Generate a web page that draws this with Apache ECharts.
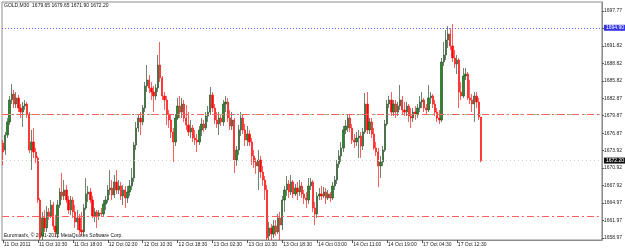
<!DOCTYPE html>
<html>
<head>
<meta charset="utf-8">
<script src="https://cdn.jsdelivr.net/npm/echarts@6/dist/echarts.min.js"></script>
<style>
html,body{margin:0;padding:0;background:#fff;}
#chart{width:625px;height:250px;}
</style>
</head>
<body>
<div id="chart"></div>
<script>
// Each bar: [open, close, low, high]  (GOLD, M30)
const oct11 = [
[1675.21,1673.67,1671.44,1675.72],[1674.01,1676.57,1673.15,1677.09],[1676.57,1678.80,1676.06,1679.48],[1678.80,1682.56,1678.28,1683.24],
[1682.56,1683.58,1681.87,1685.29],[1683.58,1681.87,1681.19,1684.27],[1681.87,1682.90,1681.19,1683.92],[1682.90,1681.19,1680.50,1683.41],
[1681.19,1680.50,1679.48,1681.87],[1680.50,1681.53,1677.94,1682.21],[1681.53,1681.87,1680.85,1682.56],[1681.87,1680.16,1679.48,1682.21],
[1680.16,1674.01,1673.50,1680.50],[1674.01,1675.38,1670.59,1677.43],[1675.38,1673.67,1672.64,1677.77],[1673.67,1672.64,1671.79,1674.35],
[1672.64,1665.46,1664.95,1672.98],[1665.46,1658.97,1658.62,1665.80],[1659.31,1662.39,1658.62,1663.41],[1662.39,1660.68,1659.99,1663.75],
[1660.68,1663.41,1659.99,1664.44],[1663.41,1662.73,1662.04,1664.10],[1662.73,1664.61,1662.39,1665.46],[1664.61,1661.02,1660.33,1665.12],
[1661.02,1659.99,1659.31,1662.90],[1659.65,1664.61,1658.97,1665.46],[1664.61,1666.83,1664.10,1667.51],[1666.83,1666.15,1665.46,1670.08],
[1666.15,1667.17,1665.46,1668.88],[1667.17,1665.46,1664.95,1668.03],[1665.46,1663.75,1663.07,1666.15],[1663.75,1665.46,1662.90,1666.15],
[1665.46,1663.41,1662.39,1665.98],[1663.41,1661.70,1660.68,1664.61],[1661.70,1662.39,1660.33,1663.75],[1662.39,1660.33,1659.65,1663.07],
[1660.33,1659.99,1659.31,1663.41],[1659.99,1664.10,1659.48,1664.78],[1664.10,1666.49,1663.75,1669.22],[1666.49,1666.83,1665.12,1667.86],
[1666.83,1665.46,1664.95,1667.51],[1665.46,1662.73,1662.39,1666.15],[1662.73,1663.41,1661.70,1664.10],[1663.41,1662.73,1660.68,1663.75]
];
const oct12 = [
[1662.73,1663.24,1662.04,1663.75],[1663.24,1663.07,1662.56,1664.10],[1663.07,1664.78,1662.73,1665.46],[1664.78,1665.46,1663.75,1666.15],
[1665.46,1667.17,1664.95,1668.03],[1667.17,1667.51,1666.32,1670.59],[1667.51,1666.32,1665.46,1668.88],[1666.32,1668.54,1665.80,1669.74],
[1668.54,1667.17,1666.49,1670.59],[1667.17,1667.86,1666.49,1668.88],[1667.86,1666.15,1665.46,1668.54],[1666.15,1667.17,1664.61,1668.03],
[1667.17,1665.80,1664.10,1667.86],[1665.80,1666.83,1664.95,1667.86],[1666.83,1667.86,1666.15,1668.88],[1667.86,1669.22,1667.17,1670.93],
[1669.22,1674.86,1668.54,1675.38],[1674.86,1677.77,1674.01,1678.80],[1677.77,1679.48,1677.09,1679.99],[1679.48,1678.80,1676.57,1680.50],
[1678.80,1681.19,1678.28,1681.70],[1681.19,1684.95,1680.50,1685.63],[1684.95,1685.98,1683.92,1688.54],[1685.98,1684.61,1683.75,1686.83],
[1684.61,1683.92,1682.56,1685.63],[1683.92,1683.24,1680.50,1684.95],[1683.24,1684.61,1682.56,1685.29],[1684.61,1688.54,1683.92,1690.25],
[1688.54,1686.32,1685.63,1692.47],[1686.32,1683.24,1682.56,1686.66],[1683.24,1682.56,1680.85,1683.92],[1682.56,1680.16,1678.28,1683.24],
[1680.16,1679.14,1677.77,1680.85],[1679.14,1677.09,1676.06,1680.16],[1677.09,1675.38,1671.96,1677.77],[1675.38,1679.48,1674.69,1680.16],
[1679.48,1681.53,1679.14,1682.90],[1681.53,1680.50,1679.48,1683.24],[1680.50,1681.87,1679.48,1682.90],[1681.87,1679.48,1678.80,1682.56],
[1679.48,1678.28,1677.43,1681.70],[1678.28,1677.09,1676.40,1680.50],[1677.09,1677.77,1676.06,1679.14],[1677.77,1676.06,1675.38,1678.28],
[1676.06,1675.72,1674.86,1677.43],[1675.72,1675.38,1673.67,1676.74],[1675.38,1677.43,1674.86,1678.11]
];
const oct13 = [
[1677.43,1678.45,1676.40,1679.48],[1678.45,1677.77,1677.09,1679.14],[1677.77,1679.82,1677.43,1680.50],[1679.82,1680.50,1678.80,1681.53],
[1680.50,1683.41,1679.99,1684.78],[1683.41,1681.19,1680.50,1683.92],[1681.19,1679.14,1678.45,1681.87],[1679.14,1678.45,1677.77,1680.50],
[1678.45,1679.48,1676.57,1680.50],[1679.48,1678.80,1678.11,1680.16],[1678.80,1681.87,1678.11,1682.56],[1681.87,1682.21,1680.50,1683.24],
[1682.21,1679.48,1678.80,1682.90],[1679.48,1678.11,1677.43,1680.85],[1678.11,1679.14,1677.43,1680.50],[1679.14,1672.30,1670.08,1679.48],
[1672.30,1674.01,1671.27,1674.69],[1674.01,1677.43,1673.15,1678.28],[1677.43,1679.48,1676.40,1680.50],[1679.48,1677.43,1676.74,1680.16],
[1677.43,1675.72,1674.69,1678.45],[1675.72,1676.74,1674.69,1678.11],[1676.74,1675.38,1674.69,1677.43],[1675.38,1672.98,1671.44,1676.06],
[1672.98,1671.96,1670.93,1674.01],[1671.96,1671.27,1669.91,1672.64],[1671.27,1672.30,1667.17,1674.01],[1672.30,1670.25,1669.22,1672.98],
[1670.25,1668.88,1667.86,1671.27],[1668.88,1667.17,1665.46,1669.56],[1667.17,1658.97,1658.62,1668.03],[1659.31,1660.68,1658.62,1661.70],
[1660.68,1659.65,1658.62,1661.36],[1659.65,1661.02,1658.97,1662.04],[1661.02,1659.99,1659.31,1662.04],[1659.99,1662.39,1659.65,1663.07],
[1662.39,1661.19,1658.62,1663.41],[1661.19,1665.46,1660.33,1666.15],[1665.46,1667.17,1663.41,1667.86],[1667.17,1668.20,1666.15,1669.56],
[1668.20,1666.83,1665.80,1668.88],[1666.83,1668.54,1666.32,1669.74],[1668.54,1666.49,1665.80,1668.88],[1666.49,1667.51,1666.15,1668.20],
[1667.51,1666.83,1665.46,1668.54],[1666.83,1667.86,1666.15,1668.88],[1667.86,1666.49,1665.80,1668.54],[1666.49,1665.80,1664.78,1667.17]
];
const oct14 = [
[1665.80,1665.46,1664.10,1666.83],[1665.46,1667.86,1664.78,1669.22],[1667.86,1668.54,1667.17,1669.22],[1668.54,1664.10,1663.41,1668.88],
[1664.10,1663.07,1661.19,1665.12],[1663.07,1666.15,1662.39,1666.83],[1666.15,1666.49,1665.46,1667.51],[1666.49,1666.15,1665.46,1667.86],
[1666.15,1666.83,1665.80,1667.68],[1666.83,1665.80,1664.78,1667.51],[1665.80,1666.49,1665.46,1667.17],[1666.49,1665.80,1665.12,1666.83],
[1665.80,1667.86,1665.46,1668.54],[1667.86,1668.88,1667.17,1669.56],[1668.88,1671.62,1668.20,1672.30],[1671.62,1672.98,1670.93,1674.01],
[1672.98,1674.35,1671.96,1675.38],[1674.35,1677.43,1673.67,1678.11],[1677.43,1678.11,1676.74,1679.14],[1677.77,1679.48,1677.09,1679.99],
[1679.48,1677.77,1677.09,1679.99],[1677.77,1675.72,1675.04,1678.45],[1675.72,1675.38,1674.35,1676.74],[1675.38,1676.06,1674.69,1677.09],
[1676.06,1676.40,1672.64,1677.43],[1676.40,1674.69,1672.64,1677.09],[1674.69,1677.09,1674.01,1677.77],[1677.09,1681.87,1676.74,1683.75],
[1681.87,1677.43,1676.74,1683.92],[1677.43,1678.80,1676.74,1679.48],[1678.80,1676.74,1676.06,1679.48],[1676.74,1674.35,1674.01,1677.77],
[1674.35,1673.67,1672.98,1675.38],[1673.67,1671.27,1667.68,1674.35],[1671.27,1671.96,1669.22,1672.98],[1671.96,1674.01,1671.27,1674.69],
[1674.01,1678.45,1673.67,1679.14],[1678.45,1681.87,1678.11,1682.56],[1681.87,1682.56,1681.19,1683.24],[1682.56,1680.50,1679.82,1683.92],
[1680.50,1681.87,1679.82,1682.56],[1681.87,1680.50,1679.48,1682.56],[1680.50,1681.53,1679.82,1682.21],[1681.53,1682.56,1680.85,1685.12],
[1682.56,1680.85,1680.16,1683.24],[1680.85,1680.50,1679.82,1682.21],[1680.50,1681.53,1679.82,1682.21]
];
const oct17 = [
[1681.53,1679.82,1678.80,1681.87],[1679.82,1679.48,1677.77,1681.19],[1679.48,1680.50,1678.80,1681.19],[1680.50,1680.16,1679.14,1681.53],
[1680.16,1681.19,1679.48,1681.87],[1681.19,1682.21,1680.50,1683.24],[1682.21,1682.56,1681.19,1683.92],[1682.56,1681.19,1680.50,1682.90],
[1681.19,1680.85,1680.16,1681.87],[1680.85,1682.90,1680.50,1685.12],[1682.90,1683.24,1681.87,1683.92],[1683.24,1681.87,1681.19,1683.58],
[1681.87,1680.50,1679.82,1682.56],[1680.50,1679.48,1678.80,1681.19],[1679.48,1679.14,1678.45,1680.85],[1679.14,1689.05,1678.80,1689.74],
[1689.05,1690.25,1688.37,1692.47],[1690.25,1692.81,1689.39,1694.52],[1692.81,1693.84,1691.44,1695.21],[1693.84,1691.79,1691.10,1694.86],
[1691.79,1689.74,1689.05,1695.55],[1689.74,1688.71,1688.03,1691.10],[1688.71,1689.39,1687.00,1690.25],[1689.39,1683.92,1681.19,1689.74],
[1683.92,1683.24,1682.56,1685.63],[1683.24,1686.66,1682.90,1688.03],[1686.66,1687.00,1685.98,1688.03],[1687.00,1682.90,1682.56,1687.34],
[1682.90,1682.56,1681.87,1685.98],[1682.56,1681.87,1680.50,1683.58],[1681.87,1683.24,1678.80,1683.92],[1683.24,1682.21,1681.19,1683.92],
[1682.21,1679.65,1679.14,1682.90],[1679.65,1672.20,1671.90,1679.65]
];

// time-axis tick labels, one every 16 bars
const timeLabels = ['11 Oct 2011','11 Oct 10:30','11 Oct 18:00','12 Oct 02:30','12 Oct 10:30','12 Oct 18:30',
  '13 Oct 02:30','13 Oct 10:30','13 Oct 18:30','14 Oct 03:00','14 Oct 11:00','14 Oct 19:00','17 Oct 04:30','17 Oct 12:30'];
const labelEvery = 16;
const totalSlots = 275; // bars plus the empty right margin of the terminal

// price-axis tick labels
const priceTicks = ['1697.77','1694.77','1691.82','1688.82','1685.82','1682.87','1679.87','1676.87',
  '1673.92','1670.92','1667.92','1664.97','1661.97','1658.97'];

// horizontal levels
const highLevel = 1694.90;
const entryLevel = 1680.08;
const stopLevel = 1662.75;

const bars = [].concat(oct11, oct12, oct13, oct14, oct17);
const last = bars[bars.length - 1];
const categories = Array.from({length: totalSlots}, (_, i) => String(i));
const showTick = (i) => i % labelEvery === 0 && i / labelEvery < timeLabels.length;

const FONT = 'Liberation Sans';
const chart = echarts.init(document.getElementById('chart'), null, {renderer: 'canvas'});
chart.setOption({
  animation: false,
  backgroundColor: '#ffffff',
  grid: {left: 2, right: 21, top: 2, bottom: 10, show: true, borderColor: '#8c8c8c', borderWidth: 1, containLabel: false},
  xAxis: {
    type: 'category', data: categories, boundaryGap: true,
    axisLine: {show: true, lineStyle: {color: '#8c8c8c', width: 1}},
    axisTick: {show: true, alignWithLabel: true, interval: (i) => showTick(i), length: 3, lineStyle: {color: '#555'}},
    axisLabel: {show: true, interval: (i) => showTick(i), formatter: (v, i) => timeLabels[i / labelEvery] || '',
      fontSize: 5, fontFamily: FONT, color: '#222', align: 'left', margin: 2, padding: [0, 0, 0, 1]},
    splitLine: {show: false}
  },
  yAxis: {
    type: 'value', position: 'right', min: 1658.62, max: 1699.31,
    axisLine: {show: true, lineStyle: {color: '#8c8c8c', width: 1}},
    axisTick: {show: true, customValues: priceTicks.map(Number), length: 2, lineStyle: {color: '#555'}},
    axisLabel: {show: true, customValues: priceTicks.map(Number), formatter: (v) => v.toFixed(2),
      fontSize: 5, fontFamily: FONT, color: '#222', margin: 2},
    splitLine: {show: false}
  },
  graphic: [
    {type: 'text', left: 4, top: 3, style: {text: 'GOLD,M30  ' + [last[0], last[3], last[2], last[1]].map(v => v.toFixed(2)).join(' '),
      font: '5px "Liberation Sans"', fill: '#111'}},
    {type: 'text', left: 4, top: 233, style: {text: 'Euromasfx, © 2001-2011 MetaQuotes Software Corp.',
      font: '5px "Liberation Sans"', fill: '#111'}}
  ],
  series: [{
    type: 'candlestick', data: bars, barWidth: 1.8, clip: true,
    itemStyle: {color: '#1f8f1f', color0: '#ff0000', borderColor: '#2f4f2f', borderColor0: '#ff1a1a', borderWidth: 0.7},
    markLine: {
      silent: true, symbol: 'none', animation: false,
      data: [
        {yAxis: highLevel, lineStyle: {color: '#6060ff', type: [1, 2], width: 1},
          label: {show: true, position: 'end', distance: 2, formatter: highLevel.toFixed(2), color: '#fff',
            backgroundColor: '#3434e0', padding: [1, 2, 0, 2], fontSize: 5, fontFamily: FONT}},
        {yAxis: entryLevel, lineStyle: {color: '#8fcf8f', type: [3, 4], width: 1}, label: {show: false}},
        {yAxis: entryLevel, lineStyle: {color: '#ff6060', type: [7, 3, 2, 3], width: 1}, label: {show: false}},
        {yAxis: stopLevel, lineStyle: {color: '#ff6060', type: [7, 3, 2, 3], width: 1}, label: {show: false}},
        {yAxis: last[1], lineStyle: {color: '#d0d0d0', type: [1, 3], width: 1},
          label: {show: true, position: 'end', distance: 2, formatter: last[1].toFixed(2), color: '#fff',
            backgroundColor: '#111', padding: [1, 2, 0, 2], fontSize: 5, fontFamily: FONT}}
      ]
    }
  }]
});
</script>
</body>
</html>
